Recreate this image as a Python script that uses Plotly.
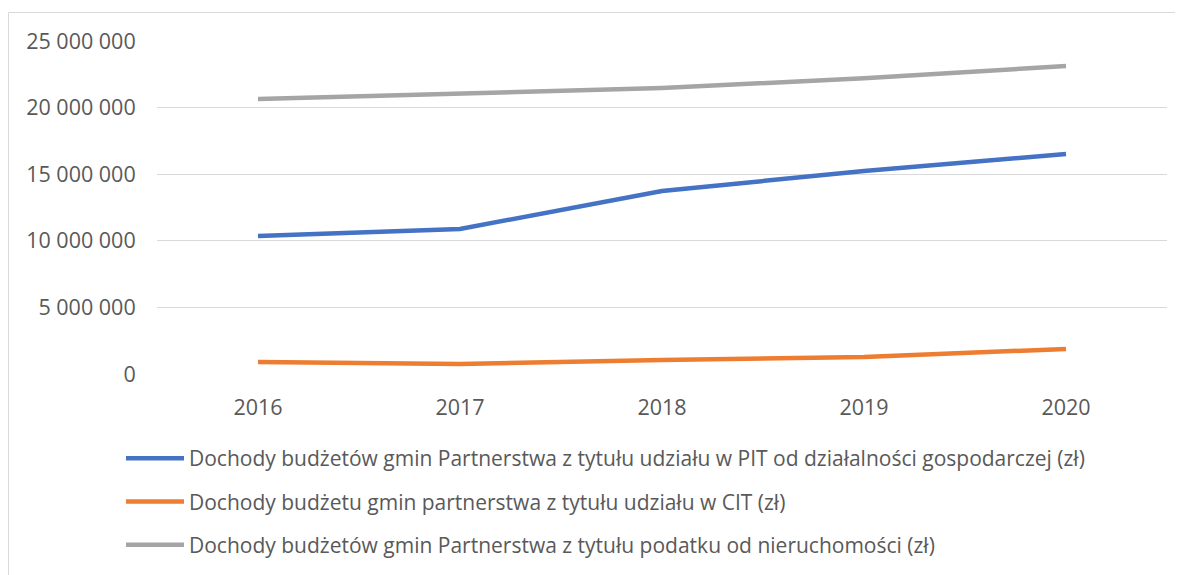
import plotly.graph_objects as go

years = ["2016", "2017", "2018", "2019", "2020"]
pit = [10360000, 10890000, 13740000, 15240000, 16520000]
cit = [900000, 750000, 1050000, 1280000, 1880000]
nieruchomosci = [20650000, 21020000, 21470000, 22200000, 23120000]

names = [
    "Dochody budżetów gmin Partnerstwa z tytułu udziału w PIT od działalności gospodarczej (zł)",
    "Dochody budżetu gmin partnerstwa z tytułu udziału w CIT (zł)",
    "Dochody budżetów gmin Partnerstwa z tytułu podatku od nieruchomości (zł)",
]
colors = ["#4472C4", "#ED7D31", "#A5A5A5"]
series = [pit, cit, nieruchomosci]

# page body has an 8px default margin; figure coordinates below are relative to it
W, H = 1175, 567
L, R, T, B = 149, 16, 33, 201
pw, ph = W - L - R, H - T - B

fig = go.Figure()
for i, (nm, vals, c) in enumerate(zip(names, series, colors)):
    fig.add_trace(go.Scatter(
        x=years, y=vals, name=nm, mode="lines",
        line=dict(color=c, width=4.5),
        legendgroup=f"g{i}",
    ))

def px_x(x):
    return (x - L) / pw

def px_y(y):
    return (H - B - y) / ph

fig.add_shape(type="rect", xref="paper", yref="paper",
              x0=px_x(0.5), x1=px_x(1200), y0=px_y(600), y1=px_y(4.5),
              line=dict(color="#D9D9D9", width=1), fillcolor="rgba(0,0,0,0)",
              layer="below")

fig.update_layout(
    width=W, height=H,
    margin=dict(l=L, r=R, t=T, b=B, pad=0, autoexpand=False),
    paper_bgcolor="white", plot_bgcolor="white",
    font=dict(family="Open Sans", color="#595959", size=21),
    separators=", ",
    showlegend=True,
    legend=dict(
        x=px_x(113), xanchor="left", y=px_y(430), yanchor="top",
        orientation="v", traceorder="grouped", tracegroupgap=13,
        itemwidth=58, font=dict(size=21, color="#595959"),
        bgcolor="rgba(0,0,0,0)",
    ),
    xaxis=dict(
        type="category", range=[-0.5, 4.5],
        showgrid=False, showline=False, zeroline=False,
        ticks="outside", ticklen=14, tickcolor="rgba(0,0,0,0)",
        tickfont=dict(size=21.5, color="#595959"),
    ),
    yaxis=dict(
        range=[0, 25000000], dtick=5000000, tickformat=",d",
        showgrid=True, gridcolor="#D9D9D9", gridwidth=1.3,
        zeroline=False, showline=False,
        ticks="outside", ticklen=16, tickcolor="rgba(0,0,0,0)",
        tickfont=dict(size=21.5, color="#595959"),
    ),
)

fig.write_html("out.html")
